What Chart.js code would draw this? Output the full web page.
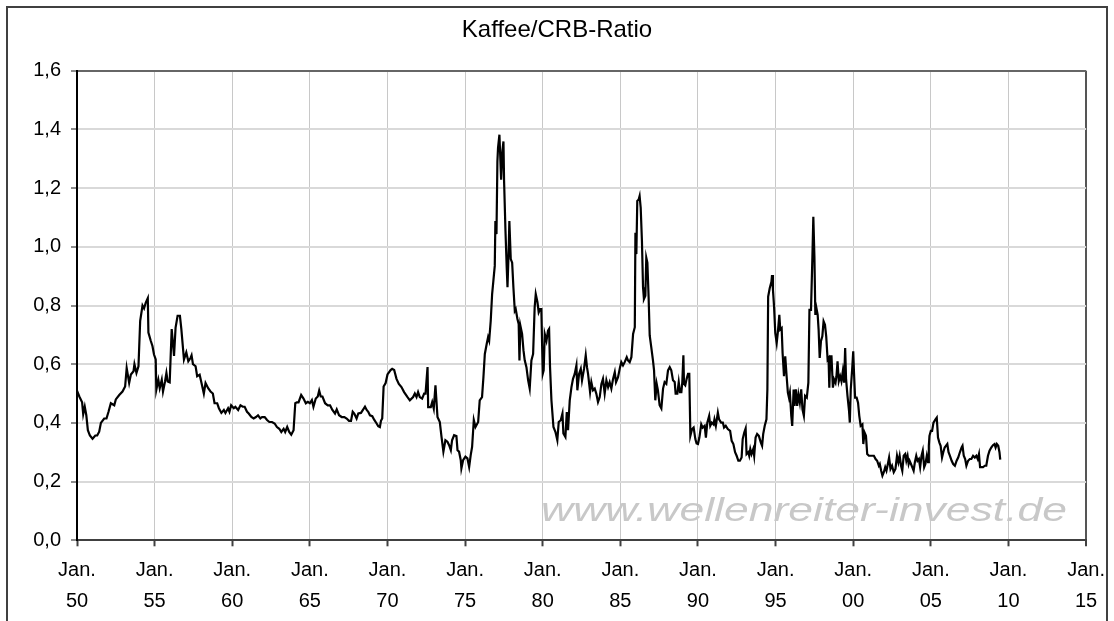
<!DOCTYPE html>
<html><head><meta charset="utf-8">
<script src="https://cdn.jsdelivr.net/npm/chart.js@4.4.1/dist/chart.umd.min.js"></script>
<style>html,body{margin:0;padding:0;background:#fff}#wrap{width:1114px;height:621px;position:relative}</style>
</head><body><div id="wrap"><canvas id="c" width="1114" height="621"></canvas></div>
<script>
// ---- Data (decimal year, ratio) ----
const chartTitle = 'Kaffee/CRB-Ratio';
const watermark = 'www.wellenreiter-invest.de';
const xTickYears = [1950,1955,1960,1965,1970,1975,1980,1985,1990,1995,2000,2005,2010,2015];
const xTickLabels = ['50','55','60','65','70','75','80','85','90','95','00','05','10','15'];
const yTickValues = [0,0.2,0.4,0.6,0.8,1.0,1.2,1.4,1.6];
const yTickLabels = ['0,0','0,2','0,4','0,6','0,8','1,0','1,2','1,4','1,6'];

const t1950s = [1950.0,1950.15,1950.33,1950.4,1950.5,1950.6,1950.7,1950.83,1951.0,1951.18,1951.3,1951.43,1951.54,1951.75,1951.9,1952.03,1952.18,1952.4,1952.5,1952.72,1952.93,1953.1,1953.2,1953.36,1953.47,1953.64,1953.7,1953.83,1953.96,1954.07,1954.22,1954.32,1954.43,1954.56,1954.6,1954.75,1954.86,1954.96,1955.07,1955.11,1955.24,1955.33,1955.46,1955.54,1955.67,1955.76,1955.84,1955.97,1956.1,1956.25,1956.35,1956.48,1956.63,1956.72,1956.89,1957.04,1957.17,1957.32,1957.38,1957.47,1957.64,1957.74,1957.9,1958.02,1958.17,1958.28,1958.45,1958.6,1958.75,1958.86,1959.03,1959.14,1959.3,1959.46,1959.56,1959.73,1959.82,1959.93];
const v1950s = [0.51,0.49,0.47,0.43,0.455,0.426,0.375,0.357,0.346,0.357,0.357,0.37,0.40,0.415,0.415,0.438,0.467,0.46,0.48,0.495,0.507,0.524,0.587,0.536,0.565,0.576,0.6,0.57,0.593,0.748,0.8,0.79,0.81,0.825,0.708,0.68,0.662,0.633,0.616,0.513,0.547,0.518,0.547,0.507,0.541,0.57,0.541,0.538,0.72,0.628,0.725,0.765,0.765,0.72,0.616,0.64,0.61,0.622,0.63,0.6,0.593,0.559,0.564,0.536,0.5,0.536,0.518,0.507,0.5,0.467,0.467,0.45,0.434,0.444,0.434,0.45,0.438,0.46];

const t1960s = [1960.1,1960.2,1960.38,1960.53,1960.68,1960.8,1960.95,1961.06,1961.23,1961.38,1961.53,1961.66,1961.81,1961.92,1962.09,1962.24,1962.39,1962.56,1962.73,1962.88,1963.03,1963.16,1963.31,1963.41,1963.54,1963.67,1963.8,1963.95,1964.06,1964.16,1964.27,1964.44,1964.59,1964.74,1964.87,1965.0,1965.13,1965.23,1965.38,1965.51,1965.6,1965.7,1965.81,1965.98,1966.15,1966.3,1966.45,1966.62,1966.73,1966.88,1967.05,1967.22,1967.37,1967.52,1967.65,1967.76,1967.86,1968.01,1968.12,1968.29,1968.44,1968.55,1968.66,1968.76,1968.87,1969.02,1969.15,1969.3,1969.4,1969.51,1969.58,1969.66,1969.75,1969.88];
const v1960s = [0.45,0.455,0.444,0.46,0.455,0.455,0.438,0.432,0.42,0.415,0.42,0.426,0.415,0.42,0.42,0.41,0.403,0.403,0.398,0.386,0.38,0.369,0.38,0.369,0.386,0.369,0.36,0.375,0.467,0.47,0.47,0.495,0.483,0.467,0.472,0.467,0.478,0.455,0.483,0.49,0.51,0.49,0.49,0.467,0.46,0.46,0.444,0.432,0.446,0.426,0.42,0.42,0.415,0.407,0.407,0.438,0.432,0.415,0.432,0.434,0.446,0.455,0.444,0.438,0.426,0.423,0.41,0.398,0.389,0.386,0.407,0.415,0.524,0.536];

const t1970s = [1970.0,1970.2,1970.3,1970.43,1970.58,1970.73,1970.9,1971.07,1971.29,1971.44,1971.65,1971.76,1971.87,1971.97,1972.08,1972.23,1972.36,1972.45,1972.58,1972.62,1972.79,1972.88,1972.98,1973.09,1973.22,1973.37,1973.48,1973.6,1973.73,1973.86,1973.97,1974.08,1974.16,1974.29,1974.44,1974.51,1974.61,1974.72,1974.76,1974.87,1975.02,1975.15,1975.26,1975.36,1975.45,1975.56,1975.67,1975.84,1975.94,1976.09,1976.18,1976.27,1976.39,1976.48,1976.55,1976.65,1976.74,1976.82,1976.91,1976.95,1977.02,1977.08,1977.12,1977.21,1977.32,1977.4,1977.47,1977.51,1977.6,1977.68,1977.73,1977.81,1977.85,1977.94,1978.03,1978.11,1978.2,1978.26,1978.37,1978.45,1978.5,1978.56,1978.67,1978.76,1978.84,1978.95,1979.06,1979.16,1979.27,1979.38,1979.48,1979.55,1979.66,1979.74,1979.83,1979.91];
const v1970s = [0.565,0.58,0.584,0.58,0.55,0.533,0.522,0.505,0.488,0.477,0.488,0.5,0.488,0.505,0.488,0.483,0.5,0.5,0.59,0.454,0.454,0.471,0.449,0.528,0.42,0.403,0.352,0.302,0.341,0.336,0.324,0.307,0.341,0.358,0.355,0.307,0.302,0.273,0.245,0.273,0.285,0.279,0.25,0.29,0.318,0.41,0.386,0.403,0.477,0.488,0.556,0.635,0.669,0.692,0.68,0.748,0.839,0.884,0.935,1.088,1.043,1.291,1.337,1.382,1.229,1.325,1.359,1.224,1.054,0.929,0.862,0.997,1.088,0.958,0.946,0.862,0.782,0.788,0.754,0.737,0.613,0.731,0.703,0.647,0.613,0.59,0.545,0.517,0.613,0.635,0.794,0.839,0.811,0.777,0.788,0.788];

const t1980s = [1980.0,1980.06,1980.13,1980.24,1980.34,1980.41,1980.47,1980.56,1980.69,1980.82,1980.94,1981.03,1981.16,1981.27,1981.33,1981.46,1981.55,1981.63,1981.74,1981.85,1981.95,1982.06,1982.17,1982.23,1982.34,1982.45,1982.53,1982.66,1982.77,1982.85,1982.92,1983.05,1983.13,1983.24,1983.35,1983.45,1983.56,1983.67,1983.78,1983.88,1983.99,1984.1,1984.21,1984.31,1984.42,1984.53,1984.64,1984.72,1984.85,1984.98,1985.06,1985.17,1985.28,1985.41,1985.49,1985.6,1985.71,1985.82,1985.93,1985.97,1986.03,1986.09,1986.18,1986.24,1986.31,1986.39,1986.46,1986.52,1986.61,1986.67,1986.74,1986.82,1986.89,1986.99,1987.1,1987.17,1987.25,1987.34,1987.42,1987.53,1987.64,1987.75,1987.85,1987.96,1988.07,1988.18,1988.28,1988.39,1988.5,1988.56,1988.67,1988.76,1988.84,1988.93,1988.99,1989.06,1989.1,1989.18,1989.27,1989.36,1989.44,1989.51,1989.62,1989.72,1989.83,1989.91];
const v1980s = [0.567,0.579,0.703,0.68,0.714,0.72,0.59,0.477,0.386,0.369,0.341,0.403,0.409,0.432,0.364,0.352,0.437,0.375,0.477,0.522,0.55,0.567,0.596,0.511,0.567,0.584,0.545,0.584,0.63,0.59,0.567,0.505,0.539,0.511,0.517,0.5,0.471,0.488,0.533,0.55,0.5,0.545,0.522,0.539,0.517,0.55,0.573,0.539,0.556,0.59,0.607,0.596,0.607,0.624,0.613,0.607,0.624,0.703,0.726,1.048,0.975,1.156,1.161,1.173,1.133,1.02,0.862,0.822,0.833,0.963,0.946,0.828,0.698,0.658,0.613,0.579,0.477,0.533,0.511,0.46,0.449,0.517,0.539,0.533,0.579,0.59,0.579,0.545,0.539,0.5,0.5,0.539,0.505,0.505,0.539,0.63,0.533,0.528,0.55,0.567,0.567,0.356,0.379,0.384,0.345,0.33];

const t1990s = [1990.0,1990.09,1990.21,1990.3,1990.43,1990.51,1990.6,1990.72,1990.79,1990.89,1991.0,1991.06,1991.15,1991.28,1991.36,1991.49,1991.6,1991.68,1991.79,1991.92,1992.07,1992.17,1992.28,1992.39,1992.49,1992.6,1992.7,1992.81,1992.88,1992.98,1993.07,1993.13,1993.24,1993.3,1993.37,1993.45,1993.56,1993.62,1993.71,1993.81,1993.92,1994.05,1994.13,1994.2,1994.3,1994.41,1994.47,1994.52,1994.62,1994.73,1994.77,1994.83,1994.9,1994.98,1995.07,1995.15,1995.24,1995.3,1995.39,1995.45,1995.54,1995.62,1995.71,1995.79,1995.86,1995.92,1996.01,1996.07,1996.16,1996.22,1996.3,1996.39,1996.47,1996.56,1996.65,1996.73,1996.82,1996.9,1997.01,1997.11,1997.18,1997.28,1997.37,1997.43,1997.5,1997.56,1997.63,1997.71,1997.77,1997.84,1997.92,1998.01,1998.09,1998.18,1998.26,1998.35,1998.41,1998.46,1998.52,1998.6,1998.69,1998.77,1998.86,1998.92,1998.99,1999.07,1999.16,1999.24,1999.33,1999.41,1999.48,1999.54,1999.63,1999.73,1999.78,1999.84,1999.93];
const v1990s = [0.328,0.35,0.395,0.384,0.39,0.35,0.401,0.424,0.39,0.401,0.395,0.412,0.39,0.435,0.412,0.401,0.401,0.384,0.39,0.379,0.373,0.339,0.328,0.3,0.288,0.271,0.271,0.282,0.345,0.367,0.381,0.294,0.3,0.288,0.311,0.294,0.311,0.288,0.35,0.362,0.356,0.333,0.322,0.362,0.39,0.412,0.514,0.83,0.859,0.881,0.904,0.853,0.797,0.706,0.672,0.712,0.768,0.718,0.723,0.638,0.559,0.627,0.559,0.503,0.486,0.503,0.424,0.39,0.514,0.458,0.514,0.458,0.497,0.469,0.514,0.446,0.424,0.492,0.486,0.537,0.785,0.785,0.966,1.102,0.966,0.768,0.791,0.768,0.718,0.621,0.678,0.695,0.746,0.734,0.695,0.616,0.621,0.52,0.627,0.627,0.52,0.548,0.537,0.559,0.61,0.542,0.559,0.542,0.576,0.537,0.655,0.548,0.492,0.441,0.401,0.514,0.582];

const t2000s = [2000.0,2000.05,2000.12,2000.22,2000.31,2000.39,2000.48,2000.59,2000.65,2000.73,2000.82,2000.9,2001.01,2001.16,2001.33,2001.44,2001.54,2001.65,2001.71,2001.8,2001.88,2001.97,2002.06,2002.14,2002.23,2002.31,2002.4,2002.5,2002.61,2002.72,2002.82,2002.91,2002.99,2003.08,2003.16,2003.25,2003.35,2003.42,2003.5,2003.57,2003.63,2003.72,2003.8,2003.89,2003.97,2004.06,2004.14,2004.23,2004.31,2004.4,2004.48,2004.57,2004.65,2004.74,2004.82,2004.87,2004.91,2005.0,2005.08,2005.17,2005.3,2005.38,2005.46,2005.55,2005.63,2005.72,2005.8,2005.89,2005.97,2006.06,2006.14,2006.23,2006.34,2006.44,2006.55,2006.66,2006.76,2006.87,2006.98,2007.04,2007.12,2007.21,2007.29,2007.4,2007.51,2007.61,2007.72,2007.83,2007.93,2008.02,2008.1,2008.17,2008.25,2008.36,2008.47,2008.57,2008.68,2008.78,2008.89,2009.0,2009.1,2009.17,2009.25,2009.34,2009.42,2009.47];
const v2000s = [0.644,0.571,0.486,0.486,0.469,0.424,0.39,0.395,0.328,0.367,0.356,0.294,0.288,0.288,0.288,0.277,0.271,0.254,0.26,0.237,0.22,0.232,0.249,0.237,0.26,0.282,0.243,0.254,0.232,0.243,0.288,0.266,0.288,0.254,0.237,0.288,0.294,0.271,0.288,0.26,0.271,0.26,0.249,0.237,0.266,0.288,0.271,0.277,0.249,0.288,0.305,0.249,0.26,0.288,0.266,0.322,0.356,0.373,0.373,0.401,0.412,0.418,0.35,0.333,0.322,0.282,0.3,0.316,0.322,0.328,0.3,0.288,0.271,0.26,0.254,0.271,0.282,0.3,0.316,0.322,0.288,0.277,0.254,0.271,0.277,0.277,0.288,0.282,0.288,0.277,0.294,0.249,0.249,0.249,0.254,0.254,0.288,0.305,0.316,0.324,0.328,0.316,0.328,0.322,0.3,0.275];

const years = [].concat(t1950s, t1960s, t1970s, t1980s, t1990s, t2000s);
const ratios = [].concat(v1950s, v1960s, v1970s, v1980s, v1990s, v2000s);
const points = years.map((x, i) => ({x: x, y: ratios[i]}));

const FONT = '"Liberation Sans", Arial, sans-serif';

const framePlugin = {
  id: 'frame',
  beforeDraw(chart) {
    const c = chart.ctx;
    c.save();
    c.fillStyle = '#fff';
    c.fillRect(0, 0, chart.width, chart.height);
    c.strokeStyle = '#404040';
    c.lineWidth = 2;
    c.strokeRect(7, 7, 1100, 640);
    // title
    c.font = '24px ' + FONT;
    c.fillStyle = '#000';
    c.textAlign = 'center';
    c.textBaseline = 'middle';
    c.fillText(chartTitle, 557, 30);
    c.restore();
  },
  beforeDatasetsDraw(chart) {
    const c = chart.ctx;
    c.save();
    c.font = 'italic 34px ' + FONT;
    c.fillStyle = '#c8c8c8';
    c.textBaseline = 'alphabetic';
    const w = c.measureText(watermark).width;
    c.translate(541, 521);
    c.scale(526 / w, 1);
    c.fillText(watermark, 0, 0);
    c.restore();
  }
};

new Chart(document.getElementById('c'), {
  type: 'line',
  data: { datasets: [{ data: points, borderColor: '#000', borderWidth: 2.2, pointRadius: 0, tension: 0, fill: false, borderJoinStyle: 'miter' }] },
  options: {
    responsive: false, animation: false, devicePixelRatio: 1,
    layout: { padding: { top: 70.7, left: 0, right: 23, bottom: 0 } },
    plugins: {
      legend: { display: false }, tooltip: { enabled: false }, title: { display: false }
    },
    scales: {
      x: {
        type: 'linear', min: 1950, max: 2015,
        afterBuildTicks: s => { s.ticks = xTickYears.map(v => ({ value: v })); },
        afterFit: s => { s.height = 80.7; },
        ticks: { autoSkip: false, maxRotation: 0, color: '#000', padding: 9, font: { family: FONT, size: 20, lineHeight: '31px' },
          callback: (v, i) => ['Jan.', xTickLabels[i]] },
        grid: { color: c => (c.tick && c.tick.value === 2015) ? '#555' : '#c8c8c8', lineWidth: c => (c.tick && c.tick.value === 2015) ? 2 : 1, tickLength: 6, tickColor: '#404040', tickWidth: 2 },
        border: { color: '#404040', width: 2 }
      },
      y: {
        min: 0, max: 1.6,
        afterBuildTicks: s => { s.ticks = yTickValues.map(v => ({ value: v })); },
        afterFit: s => { s.width = 77; },
        ticks: { color: '#000', padding: 10, font: { family: FONT, size: 20 }, callback: (v, i) => yTickLabels[i] },
        grid: { color: c => (c.tick && c.tick.value === 1.6) ? '#666' : '#d9d9d9', lineWidth: 2, tickLength: 6, tickColor: '#666', tickWidth: 1.5 },
        border: { color: '#000', width: 2 }
      }
    }
  },
  plugins: [framePlugin]
});
</script></body></html>
